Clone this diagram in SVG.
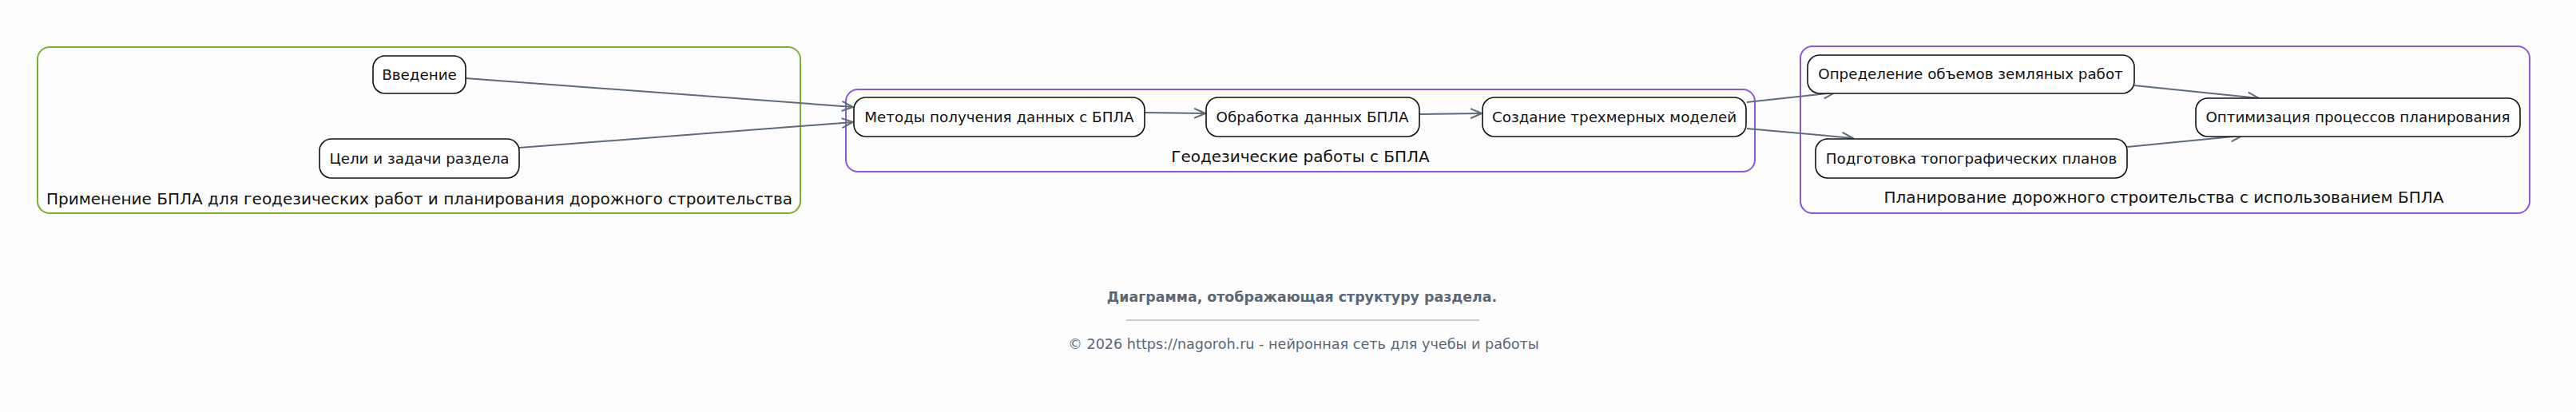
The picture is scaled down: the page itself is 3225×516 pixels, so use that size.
<svg xmlns="http://www.w3.org/2000/svg" width="3225" height="516" viewBox="0 0 3225 516">
<style>
.bg{fill:#fdfdfd}
.cl-green{fill:none;stroke:#7cb032;stroke-width:2}
.cl-purple{fill:none;stroke:#8a58dc;stroke-width:2}
.node rect{fill:#ffffff;stroke:#111111;stroke-width:1.6}
.node text{font-family:"DejaVu Sans",sans-serif;font-size:18.3px;fill:#111111;text-anchor:middle}
.cl-label{font-family:"DejaVu Sans",sans-serif;font-size:20px;fill:#111111;text-anchor:middle}
.edge{fill:none;stroke:#5d6b7b;stroke-width:2;marker-end:url(#arr)}
.title{font-family:"DejaVu Sans",sans-serif;font-size:17.4px;font-weight:bold;fill:#5a6878;text-anchor:middle}
.copy{font-family:"DejaVu Sans",sans-serif;font-size:17.6px;fill:#5a6878;text-anchor:middle}
</style>
<defs>
<marker id="arr" viewBox="0 0 16 14" refX="15" refY="7" markerWidth="16" markerHeight="14" markerUnits="userSpaceOnUse" orient="auto">
<path d="M1,1 L15,7 L1,13" fill="none" stroke="#5d6b7b" stroke-width="2"/>
</marker>
</defs>
<rect class="bg" x="0" y="0" width="3225" height="516"/>
<g id="cluster-main">
<rect class="cl-green" x="47" y="59" width="955" height="208" rx="15"/>
<text class="cl-label" x="525" y="256">Применение БПЛА для геодезических работ и планирования дорожного строительства</text>
</g>
<g id="cluster-geo">
<rect class="cl-purple" x="1059" y="112" width="1138" height="103" rx="15"/>
<text class="cl-label" x="1628" y="203">Геодезические работы с БПЛА</text>
</g>
<g id="cluster-plan">
<rect class="cl-purple" x="2254" y="58" width="913" height="209" rx="15"/>
<text class="cl-label" x="2709" y="254">Планирование дорожного строительства с использованием БПЛА</text>
</g>
<g id="edges">
<path class="edge" d="M583,98 L1068,134"/>
<path class="edge" d="M650,185 L1068,153"/>
<path class="edge" d="M1433,141 L1509,142"/>
<path class="edge" d="M1777,143 L1855,142"/>
<path class="edge" d="M2187,128 L2297,116"/>
<path class="edge" d="M2187,161 L2320,173"/>
<path class="edge" d="M2672,107 L2828,123"/>
<path class="edge" d="M2663,184 L2807,170"/>
</g>
<g id="n-intro" class="node"><rect x="467" y="70" width="116" height="47" rx="15"/><text x="525" y="100">Введение</text></g>
<g id="n-goals" class="node"><rect x="400" y="174" width="250" height="49" rx="15"/><text x="525" y="205">Цели и задачи раздела</text></g>
<g id="n-methods" class="node"><rect x="1069" y="122" width="364" height="49" rx="15"/><text x="1251" y="153">Методы получения данных с БПЛА</text></g>
<g id="n-proc" class="node"><rect x="1510" y="122" width="267" height="49" rx="15"/><text x="1643" y="153">Обработка данных БПЛА</text></g>
<g id="n-3d" class="node"><rect x="1856" y="122" width="330" height="49" rx="15"/><text x="2021" y="153">Создание трехмерных моделей</text></g>
<g id="n-volumes" class="node"><rect x="2263" y="69" width="409" height="48" rx="15"/><text x="2467" y="99">Определение объемов земляных работ</text></g>
<g id="n-topo" class="node"><rect x="2273" y="174" width="390" height="49" rx="15"/><text x="2468" y="205">Подготовка топографических планов</text></g>
<g id="n-opt" class="node"><rect x="2749" y="123" width="406" height="48" rx="15"/><text x="2952" y="153">Оптимизация процессов планирования</text></g>
<g id="footer">
<text class="title" x="1630" y="378">Диаграмма, отображающая структуру раздела.</text>
<line x1="1410" y1="401" x2="1852" y2="401" stroke="#8a96a3" stroke-width="1"/>
<text class="copy" x="1632" y="437">© 2026 https://nagoroh.ru - нейронная сеть для учебы и работы</text>
</g>
</svg>
